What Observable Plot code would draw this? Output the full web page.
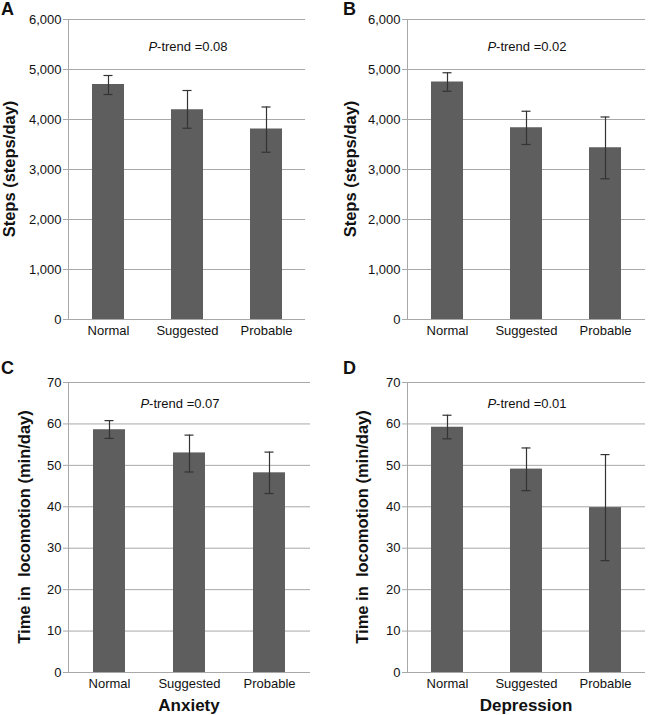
<!DOCTYPE html>
<html>
<head>
<meta charset="utf-8">
<script src="https://cdn.jsdelivr.net/npm/d3@7"></script>
<script src="https://cdn.jsdelivr.net/npm/@observablehq/plot@0.6"></script>
<style>
  body { margin: 0; background: #fff; font-family: "Liberation Sans", Arial, sans-serif; }
  #wrap { position: relative; width: 648px; height: 715px; overflow: hidden; }
  .panel { position: absolute; }
  .lbl { position: absolute; font-weight: bold; color: #111; white-space: pre; }
  .letter { font-size: 18px; }
  .ytitle { font-size: 16.5px; transform: translate(-50%, -50%) rotate(-90deg); }
  .xtitle { font-size: 17px; transform: translate(-50%, -50%); }
  .ptrend { position: absolute; font-size: 13px; color: #111; transform: translate(-50%, -50%); white-space: pre; }
</style>
</head>
<body>
<div id="wrap"></div>
<script>
const categories = ["Normal", "Suggested", "Probable"];

// Panel A: Anxiety - steps
const stepsAnxiety = [4700, 4195, 3810];
const stepsAnxietyLow = [4500, 3825, 3345];
const stepsAnxietyHigh = [4880, 4580, 4250];
// Panel B: Depression - steps
const stepsDepression = [4750, 3835, 3435];
const stepsDepressionLow = [4565, 3500, 2815];
const stepsDepressionHigh = [4935, 4165, 4050];
// Panel C: Anxiety - locomotion
const locoAnxiety = [58.6, 53.0, 48.2];
const locoAnxietyLow = [56.5, 48.4, 43.2];
const locoAnxietyHigh = [60.8, 57.3, 53.2];
// Panel D: Depression - locomotion
const locoDepression = [59.2, 49.1, 39.8];
const locoDepressionLow = [56.4, 43.9, 27.0];
const locoDepressionHigh = [62.1, 54.2, 52.6];

const stepsTicks = [0, 1000, 2000, 3000, 4000, 5000, 6000];
const locoTicks = [0, 10, 20, 30, 40, 50, 60, 70];

const pTrends = ["0.08", "0.02", "0.07", "0.01"];
const panelLetters = ["A", "B", "C", "D"];
const yTitles = ["Steps (steps/day)", "Steps (steps/day)", "Time in  locomotion (min/day)", "Time in  locomotion (min/day)"];
const xTitles = ["", "", "Anxiety", "Depression"];

function rows(vals, lo, hi) {
  return categories.map((c, i) => ({cat: c, v: vals[i], lo: lo[i], hi: hi[i]}));
}

const panels = [
  {data: rows(stepsAnxiety, stepsAnxietyLow, stepsAnxietyHigh), ticks: stepsTicks, fmt: d3.format(","),
   left: 0, top: 0, w: 324, h: 340, ml: 68, mr: 19, mt: 19, mb: 21},
  {data: rows(stepsDepression, stepsDepressionLow, stepsDepressionHigh), ticks: stepsTicks, fmt: d3.format(","),
   left: 324, top: 0, w: 324, h: 340, ml: 83, mr: 3, mt: 19, mb: 21},
  {data: rows(locoAnxiety, locoAnxietyLow, locoAnxietyHigh), ticks: locoTicks, fmt: d3.format("d"),
   left: 0, top: 340, w: 324, h: 375, ml: 68, mr: 14, mt: 42, mb: 43},
  {data: rows(locoDepression, locoDepressionLow, locoDepressionHigh), ticks: locoTicks, fmt: d3.format("d"),
   left: 324, top: 340, w: 324, h: 375, ml: 83, mr: 3, mt: 42, mb: 43}
];

const wrap = document.getElementById("wrap");
const gray = "#a8a8a8";

panels.forEach((p, k) => {
  const ymax = p.ticks[p.ticks.length - 1];
  const chart = Plot.plot({
    width: p.w, height: p.h,
    marginLeft: p.ml, marginRight: p.mr, marginTop: p.mt, marginBottom: p.mb,
    style: {fontFamily: "'Liberation Sans', Arial, sans-serif", fontSize: "13px", color: "#111", background: "transparent"},
    x: {domain: categories, paddingInner: 0.6, paddingOuter: 0.3, label: null},
    y: {domain: [0, ymax], label: null},
    marks: [
      Plot.gridY(p.ticks, {stroke: gray, strokeOpacity: 1, strokeWidth: 1}),
      Plot.frame({anchor: "left", stroke: gray, strokeWidth: 1}),
      Plot.axisY(p.ticks, {tickSize: 5, tickPadding: 2, tickFormat: p.fmt, stroke: gray, fill: "#111", fontSize: 13, label: null}),
      Plot.axisX({tickSize: 0, tickPadding: 6, fill: "#111", fontSize: 13, label: null}),
      Plot.barY(p.data, {x: "cat", y: "v", fill: "#5e5e5e"}),
      Plot.ruleY([0], {stroke: gray, strokeWidth: 1}),
      Plot.ruleX(p.data, {x: "cat", y1: "lo", y2: "hi", stroke: "#333", strokeWidth: 1.2}),
      Plot.tickY(p.data, {x: "cat", y: "lo", stroke: "#333", strokeWidth: 1.2, insetLeft: 11.5, insetRight: 11.5}),
      Plot.tickY(p.data, {x: "cat", y: "hi", stroke: "#333", strokeWidth: 1.2, insetLeft: 11.5, insetRight: 11.5})
    ]
  });
  chart.classList.add("panel");
  chart.style.left = p.left + "px";
  chart.style.top = p.top + "px";
  wrap.appendChild(chart);

  const plotCenterX = p.left + p.ml + (p.w - p.ml - p.mr) / 2;
  const plotCenterY = p.top + p.mt + (p.h - p.mt - p.mb) / 2;

  // panel letter
  const L = document.createElement("div");
  L.className = "lbl letter";
  L.textContent = panelLetters[k];
  L.style.left = (p.left + (k % 2 ? 19 : 1)) + "px";
  L.style.top = (p.top + (k < 2 ? -1 : 18)) + "px";
  wrap.appendChild(L);

  // y title
  const Y = document.createElement("div");
  Y.className = "lbl ytitle";
  Y.textContent = yTitles[k];
  const yx = k === 0 ? 9 : k === 1 ? 350 : k === 2 ? 24 : 362;
  Y.style.left = yx + "px";
  Y.style.top = plotCenterY + "px";
  wrap.appendChild(Y);

  // x title
  if (xTitles[k]) {
    const X = document.createElement("div");
    X.className = "lbl xtitle";
    X.textContent = xTitles[k];
    X.style.left = plotCenterX + "px";
    X.style.top = "706px";
    wrap.appendChild(X);
  }

  // P-trend annotation
  const P = document.createElement("div");
  P.className = "ptrend";
  P.innerHTML = "<i>P</i>-trend =" + pTrends[k];
  P.style.left = (k % 2 ? 527 : (k === 0 ? 188 : 180)) + "px";
  P.style.top = (p.top + (k < 2 ? 46 : 63)) + "px";
  wrap.appendChild(P);
});
</script>
</body>
</html>
